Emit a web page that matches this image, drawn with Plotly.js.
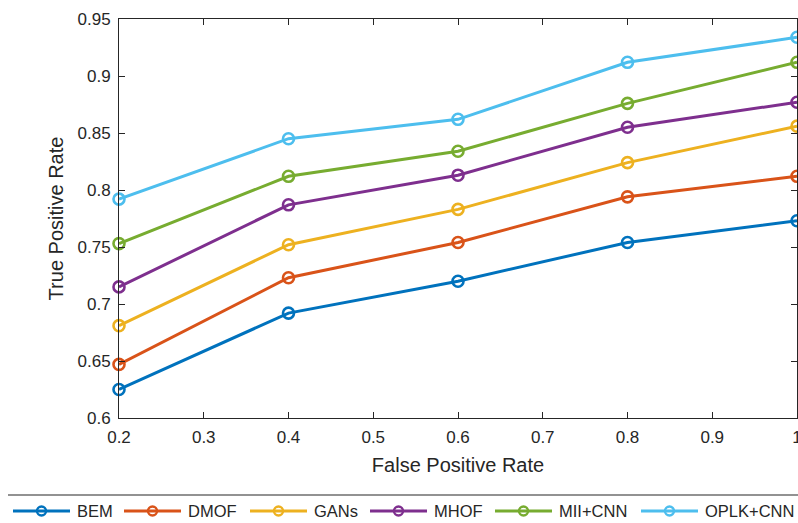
<!DOCTYPE html>
<html>
<head>
<meta charset="utf-8">
<script src="https://cdn.plot.ly/plotly-3.0.1.min.js"></script>
<style>html,body{margin:0;padding:0;background:#fff;}#chart{width:798px;height:523px;}</style>
</head>
<body>
<div id="chart"></div>
<script>
const fpr = [0.2, 0.4, 0.6, 0.8, 1.0];
const seriesNames = ["BEM", "DMOF", "GANs", "MHOF", "MII+CNN", "OPLK+CNN"];
const bem = [0.625, 0.692, 0.720, 0.754, 0.773];
const dmof = [0.647, 0.723, 0.754, 0.794, 0.812];
const gans = [0.681, 0.752, 0.783, 0.824, 0.856];
const mhof = [0.715, 0.787, 0.813, 0.855, 0.877];
const miiCnn = [0.753, 0.812, 0.834, 0.876, 0.912];
const oplkCnn = [0.792, 0.845, 0.862, 0.912, 0.934];
const xTickVals = [0.2, 0.3, 0.4, 0.5, 0.6, 0.7, 0.8, 0.9, 1.0];
const xTickText = ["0.2", "0.3", "0.4", "0.5", "0.6", "0.7", "0.8", "0.9", "1"];
const yTickVals = [0.6, 0.65, 0.7, 0.75, 0.8, 0.85, 0.9, 0.95];
const yTickText = ["0.6", "0.65", "0.7", "0.75", "0.8", "0.85", "0.9", "0.95"];

// styling
const colors = ["#0072BD", "#D95319", "#EDB120", "#7E2F8E", "#77AC30", "#4DBEEE"];
const values = [bem, dmof, gans, mhof, miiCnn, oplkCnn];
const W = 798, H = 523;
const M = {l: 119, r: 1, t: 19, b: 105};
const plotW = W - M.l - M.r, plotH = H - M.t - M.b;
const px2x = px => (px - M.l) / plotW;
const py2y = py => (H - M.b - py) / plotH;
// custom legend layout (pixel positions of each legend item's sample line start)
const legendStarts = [13, 124, 250, 370, 495, 641];
const legendLineLen = 57, legendTextGap = 6, legendY = 511;
const fontFam = 'Liberation Sans, Arial, Helvetica, sans-serif';
const ink = '#262626';

const traces = values.map((v, i) => ({
  x: fpr, y: v, name: seriesNames[i], type: 'scatter', mode: 'lines+markers',
  line: {color: colors[i], width: 3},
  marker: {symbol: 'circle-open', size: 11, color: colors[i], line: {width: 2.6, color: colors[i]}},
  cliponaxis: false, showlegend: false
}));

const shapes = [{
  type: 'line', xref: 'paper', yref: 'paper', x0: px2x(8), x1: px2x(800), y0: py2y(495), y1: py2y(495),
  line: {color: '#6e6e6e', width: 1.5}
}];
const annotations = [];
seriesNames.forEach((name, i) => {
  const s = legendStarts[i];
  shapes.push({
    type: 'line', xref: 'paper', yref: 'paper', x0: px2x(s), x1: px2x(s + legendLineLen),
    y0: py2y(legendY), y1: py2y(legendY), line: {color: colors[i], width: 3}
  });
  shapes.push({
    type: 'circle', xref: 'paper', yref: 'paper', xsizemode: 'pixel', ysizemode: 'pixel',
    xanchor: px2x(s + legendLineLen / 2), yanchor: py2y(legendY),
    x0: -4.5, x1: 4.5, y0: -4.5, y1: 4.5,
    line: {color: colors[i], width: 2.4}, fillcolor: 'rgba(0,0,0,0)'
  });
  annotations.push({
    xref: 'paper', yref: 'paper', x: px2x(s + legendLineLen + legendTextGap), y: py2y(legendY),
    xanchor: 'left', yanchor: 'middle', showarrow: false, text: name,
    font: {family: fontFam, size: 16.5, color: ink}, borderpad: 0
  });
});

const axisCommon = {
  showgrid: false, zeroline: false, showline: true, linecolor: ink, linewidth: 1,
  mirror: 'ticks', ticks: 'inside', ticklen: 6, tickcolor: ink,
  ticklabeloverflow: 'allow',
  tickfont: {family: fontFam, size: 17, color: ink}
};

const layout = {
  width: W, height: H,
  margin: Object.assign({autoexpand: false}, M),
  paper_bgcolor: '#fff', plot_bgcolor: '#fff',
  font: {family: fontFam, color: ink},
  xaxis: Object.assign({}, axisCommon, {
    range: [0.2, 1.0], tickvals: xTickVals, ticktext: xTickText, ticklabelstandoff: 4,
    title: {text: 'False Positive Rate', font: {size: 20, color: ink}, standoff: 11}
  }),
  yaxis: Object.assign({}, axisCommon, {
    range: [0.6, 0.95], tickvals: yTickVals, ticktext: yTickText, ticklabelstandoff: 4,
    title: {text: 'True Positive Rate', font: {size: 20, color: ink}, standoff: 8}
  }),
  showlegend: false,
  shapes: shapes,
  annotations: annotations
};

Plotly.newPlot('chart', traces, layout, {displayModeBar: false, staticPlot: true});
</script>
</body>
</html>
